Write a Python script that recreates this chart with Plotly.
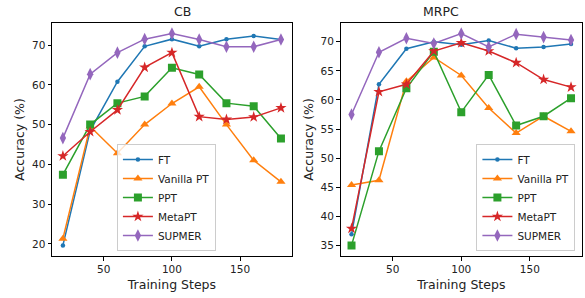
import plotly.graph_objects as go

steps = [20, 40, 60, 80, 100, 120, 140, 160, 180]
methods = ["FT", "Vanilla PT", "PPT", "MetaPT", "SUPMER"]

cb_ft = [19.6, 48.5, 60.8, 69.7, 71.5, 69.7, 71.5, 72.3, 71.4]
cb_vpt = [21.3, 49.5, 42.8, 50.0, 55.3, 59.5, 50.0, 41.0, 35.6]
cb_ppt = [37.4, 50.0, 55.4, 57.1, 64.3, 62.6, 55.4, 54.6, 46.5]
cb_meta = [42.1, 48.2, 53.7, 64.4, 68.1, 52.0, 51.3, 51.9, 54.2]
cb_sup = [46.6, 62.7, 68.1, 71.5, 72.9, 71.4, 69.6, 69.6, 71.4]

mrpc_ft = [36.9, 62.7, 68.8, 70.0, 69.5, 70.2, 68.9, 69.1, 69.6]
mrpc_vpt = [45.4, 46.2, 63.2, 67.3, 64.2, 58.6, 54.3, 57.2, 54.6]
mrpc_ppt = [35.0, 51.2, 62.0, 68.3, 57.9, 64.3, 55.6, 57.2, 60.3]
mrpc_meta = [37.9, 61.4, 62.7, 68.4, 69.8, 68.4, 66.4, 63.5, 62.2]
mrpc_sup = [57.5, 68.2, 70.6, 69.7, 71.4, 69.1, 71.3, 70.8, 70.3]

cb_ticks = [20, 30, 40, 50, 60, 70]
mrpc_ticks = [35, 40, 45, 50, 55, 60, 65, 70]
x_ticks = [50, 100, 150]

colors = ["#1f77b4", "#ff7f0e", "#2ca02c", "#d62728", "#9467bd"]
symbols = ["circle", "triangle-up", "square", "star", "diamond-tall"]
sizes = [4.5, 8, 8, 8.5, 9]

FONT = "DejaVu Sans"
fig = go.Figure()

def add_panel(series, xa, ya, leg):
    for name, ys, c, s, sz in zip(methods, series, colors, symbols, sizes):
        fig.add_trace(go.Scatter(
            x=steps, y=ys, name=name, mode="lines+markers",
            line=dict(color=c, width=1.5),
            marker=dict(symbol=s, size=sz, color=c, line=dict(width=0)),
            xaxis=xa, yaxis=ya, legend=leg, showlegend=True))

add_panel([cb_ft, cb_vpt, cb_ppt, cb_meta, cb_sup], "x", "y", "legend")
add_panel([mrpc_ft, mrpc_vpt, mrpc_ppt, mrpc_meta, mrpc_sup], "x2", "y2", "legend2")

def padded(lst):
    v = [a for s in lst for a in s]
    lo, hi = min(v), max(v)
    m = (hi - lo) * 0.05
    return [lo - m, hi + m]

xr = [20 - 160 * 0.05, 180 + 160 * 0.05]
yr1 = padded([cb_ft, cb_vpt, cb_ppt, cb_meta, cb_sup])
yr2 = padded([mrpc_ft, mrpc_vpt, mrpc_ppt, mrpc_meta, mrpc_sup])

ax_common = dict(showline=True, linecolor="black", linewidth=1, mirror=True,
                 ticks="outside", ticklen=3.5, tickwidth=1, tickcolor="black",
                 showgrid=False, zeroline=False, automargin=False,
                 tickfont=dict(family=FONT, size=10.5, color="#222"))

# plot area in pixels
L, R, T, B = 52, 582.3, 23, 256
W, H = R - L, B - T

def px_x(p):
    return (p - L) / W

def px_y(p):
    return (B - p) / H

xt = dict(text="Training Steps", font=dict(family=FONT, size=12.5, color="#222"), standoff=6)
yt = dict(text="Accuracy (%)", font=dict(family=FONT, size=12.5, color="#222"), standoff=4)
leg_common = dict(bgcolor="rgba(255,255,255,0.8)", bordercolor="#cccccc", borderwidth=1,
                  font=dict(family=FONT, size=10.5, color="#222"), tracegroupgap=0,
                  itemwidth=30, yanchor="bottom", xanchor="right", y=px_y(251))

fig.update_layout(
    width=585, height=298,
    margin=dict(l=L, r=585 - R, t=T, b=298 - B, autoexpand=False),
    paper_bgcolor="white", plot_bgcolor="white",
    font=dict(family=FONT, color="#222"),
    xaxis=dict(domain=[0, px_x(292)], range=xr, tickvals=x_ticks, title=xt, anchor="y", **ax_common),
    yaxis=dict(domain=[0, 1], range=yr1, tickvals=cb_ticks, title=yt, anchor="x", **ax_common),
    xaxis2=dict(domain=[px_x(340.7), 1], range=xr, tickvals=x_ticks, title=xt, anchor="y2", **ax_common),
    yaxis2=dict(domain=[0, 1], range=yr2, tickvals=mrpc_ticks, title=yt, anchor="x2", **ax_common),
    legend=dict(x=px_x(216), **leg_common),
    legend2=dict(x=px_x(575.7), **leg_common),
    annotations=[
        dict(text="CB", x=px_x((52 + 292) / 2), y=px_y(12), xref="paper", yref="paper",
             showarrow=False, font=dict(family=FONT, size=12.5, color="#222"), yanchor="middle"),
        dict(text="MRPC", x=px_x((340.7 + 582.3) / 2), y=px_y(12), xref="paper", yref="paper",
             showarrow=False, font=dict(family=FONT, size=12.5, color="#222"), yanchor="middle"),
    ],
)

fig.write_html("out.html", config={"displayModeBar": False},
               post_script="document.body.style.margin='0';document.body.style.padding='0';")
